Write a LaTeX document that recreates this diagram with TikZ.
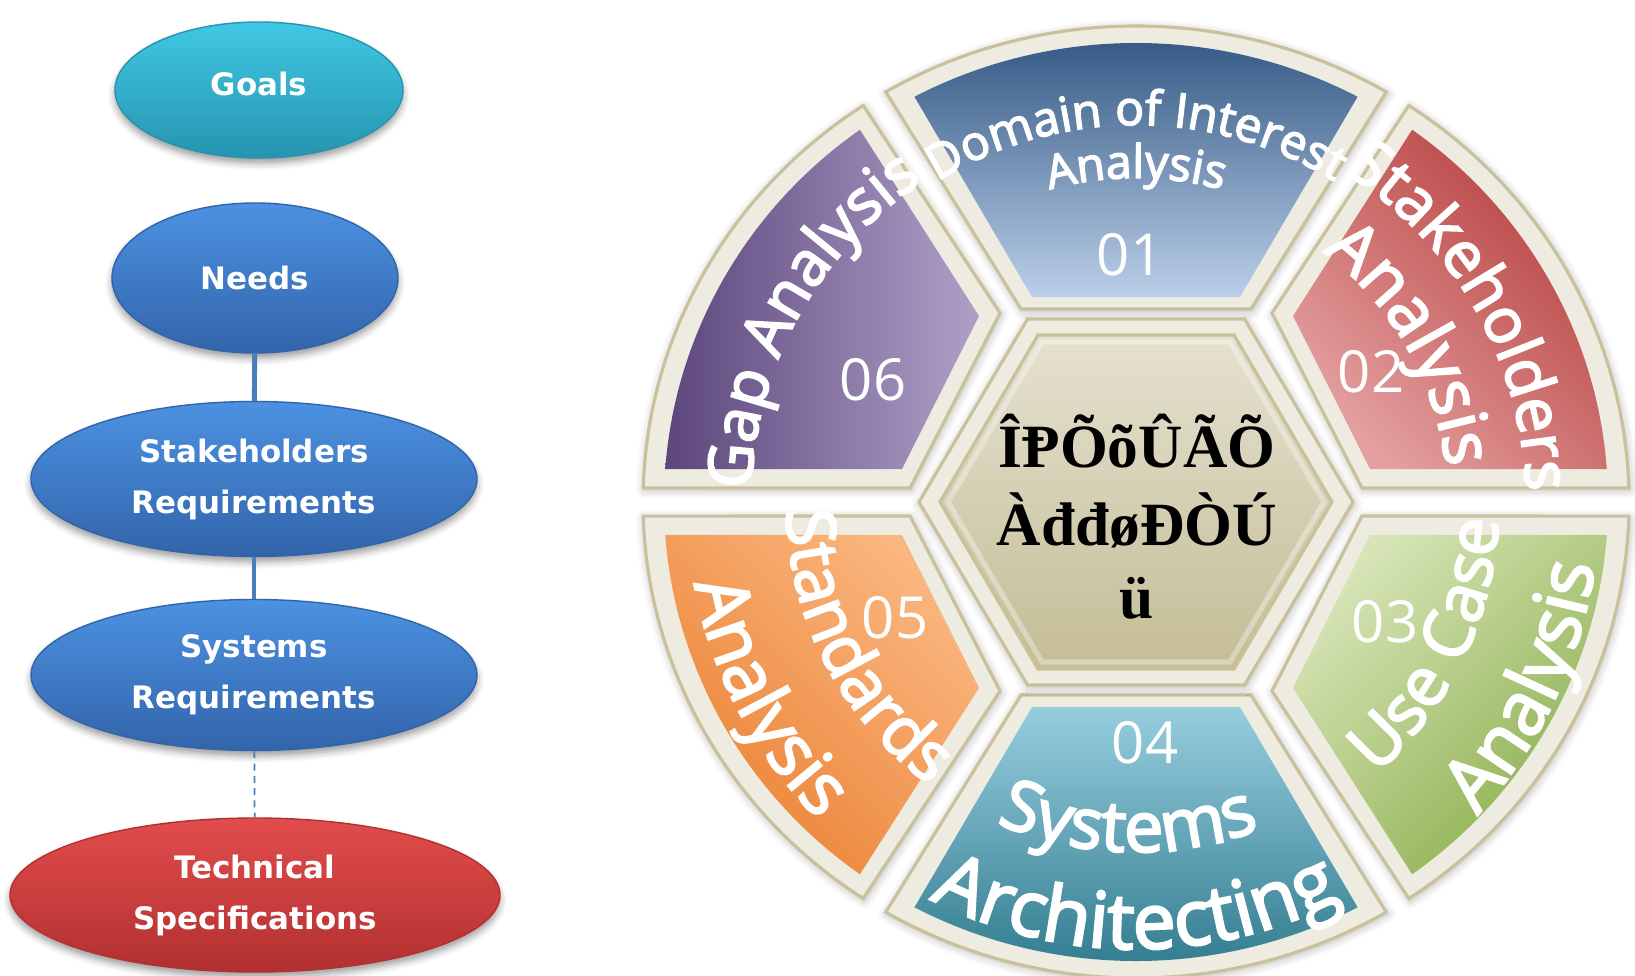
\documentclass[tikz,border=0pt]{standalone}
\usepackage{fontspec}
\setmainfont{Open Sans}
\newfontfamily\arcfont{Open Sans}[FakeBold=3]
\newfontfamily\boxfont{DejaVu Sans}
\newfontfamily\hexfont{Liberation Serif}
\usetikzlibrary{shapes.geometric, decorations.text, shadows.blur}
\definecolor{goaltop}{RGB}{64, 200, 228}
\definecolor{goalbot}{RGB}{38, 148, 176}
\definecolor{reqtop}{RGB}{76, 146, 226}
\definecolor{reqbot}{RGB}{50, 100, 170}
\definecolor{spectop}{RGB}{226, 76, 76}
\definecolor{specbot}{RGB}{178, 48, 48}
\definecolor{linkblue}{RGB}{74, 126, 187}
\definecolor{frmfill}{RGB}{238, 236, 225}
\definecolor{frmline}{RGB}{200, 193, 155}
\definecolor{hextop}{RGB}{229, 225, 208}
\definecolor{hexbot}{RGB}{196, 189, 150}
\definecolor{domtop}{RGB}{46, 83, 128}
\definecolor{dommid}{RGB}{80, 125, 178}
\definecolor{dombot}{RGB}{187, 207, 232}
\definecolor{stkdark}{RGB}{182, 64, 62}
\definecolor{stkmid}{RGB}{196, 88, 86}
\definecolor{stklight}{RGB}{228, 160, 160}
\definecolor{usedark}{RGB}{140, 175, 78}
\definecolor{uselight}{RGB}{214, 228, 182}
\definecolor{archtop}{RGB}{150, 206, 222}
\definecolor{archmid}{RGB}{75, 170, 198}
\definecolor{archbot}{RGB}{46, 120, 140}
\definecolor{stddark}{RGB}{235, 130, 52}
\definecolor{stdlight}{RGB}{250, 182, 127}
\definecolor{gapdark}{RGB}{92, 70, 124}
\definecolor{gaplight}{RGB}{175, 160, 200}
\newcommand{\segfont}[1]{\arcfont\fontsize{#1}{#1}\selectfont\color{white}}
\tikzset{
  stage/.style={ellipse, inner sep=0pt, align=center, text=white, line width=0.4pt,
    font=\boxfont\bfseries\fontsize{8.8}{14.5}\selectfont,
    blur shadow={shadow xshift=0pt, shadow yshift=-1.5pt, shadow blur radius=2pt}},
  conn/.style={draw=linkblue, line width=1.4pt},
  frame/.style={fill=frmfill, draw=frmline, line width=0.9pt,
    blur shadow={shadow xshift=0.3pt, shadow yshift=-0.6pt, shadow blur radius=2.5pt, shadow opacity=30}},
  num/.style={text=white, font=\fontsize{16.5}{18}\selectfont},
  hexline/.style={anchor=base, font=\hexfont\bfseries\fontsize{17.5}{20}\selectfont},
  arclabel/.style={decorate, decoration={text along path, text align=center, text={#1}}},
}
\begin{document}
\begin{tikzpicture}
  \useasboundingbox (0, 0) rectangle (16.35, 9.75);
  % requirement levels
  \node[stage, top color=goaltop, bottom color=goalbot, draw=goalbot, minimum width=2.88cm, minimum height=1.36cm, text depth=0.13cm] (goals) at (2.59, 8.85) {Goals};
  \node[stage, top color=reqtop, bottom color=reqbot, draw=reqbot, minimum width=2.86cm, minimum height=1.5cm] (needs) at (2.55, 6.97) {Needs};
  \node[stage, top color=reqtop, bottom color=reqbot, draw=reqbot, minimum width=4.46cm, minimum height=1.55cm] (stake) at (2.54, 4.96) {Stakeholders\\Requirements};
  \node[stage, top color=reqtop, bottom color=reqbot, draw=reqbot, minimum width=4.46cm, minimum height=1.51cm] (sysreq) at (2.54, 3.0) {Systems\\Requirements};
  \node[stage, top color=spectop, bottom color=specbot, draw=specbot, minimum width=4.9cm, minimum height=1.54cm] (techspec) at (2.55, 0.8) {Technical\\Specifications};
  \draw[conn] (needs) -- (stake);
  \draw[conn] (stake) -- (sysreq);
  \draw[draw=linkblue, line width=0.5pt, dash pattern=on 2pt off 1.5pt] (sysreq) -- (techspec);
  % analysis wheel
  \begin{scope}[shift={(11.36, 4.73)}]
    \draw[frame] (-1.15, 1.93) -- (120.5:4.93 and 4.76) arc[start angle=120.5, end angle=59.5, x radius=4.93, y radius=4.76] -- (1.15, 1.93) -- cycle;
    \draw[frame] (2.26, 0.14) -- (1.7:4.93 and 4.76) arc[start angle=1.7, end angle=56.4, x radius=4.93, y radius=4.76] -- (1.36, 1.89) -- cycle;
    \draw[frame] (2.26, -0.14) -- (-1.7:4.93 and 4.76) arc[start angle=-1.7, end angle=-56.4, x radius=4.93, y radius=4.76] -- (1.36, -1.89) -- cycle;
    \draw[frame] (-1.15, -1.93) -- (239.5:4.93 and 4.76) arc[start angle=239.5, end angle=300.5, x radius=4.93, y radius=4.76] -- (1.15, -1.93) -- cycle;
    \draw[frame] (-2.26, -0.14) -- (181.7:4.93 and 4.76) arc[start angle=181.7, end angle=236.4, x radius=4.93, y radius=4.76] -- (-1.36, -1.89) -- cycle;
    \draw[frame] (-2.26, 0.14) -- (178.3:4.93 and 4.76) arc[start angle=178.3, end angle=123.6, x radius=4.93, y radius=4.76] -- (-1.36, 1.89) -- cycle;
    \shade[top color=domtop, middle color=dommid, bottom color=dombot] (-1.04, 2.05) -- (118:4.72 and 4.59) arc[start angle=118, end angle=62, x radius=4.72, y radius=4.59] -- (1.04, 2.05) -- cycle;
    \shade[top color=stklight, middle color=stkmid, bottom color=stkdark, shading angle=135] (2.34, 0.33) -- (4.1:4.72 and 4.59) arc[start angle=4.1, end angle=54.2, x radius=4.72, y radius=4.59] -- (1.57, 1.86) -- cycle;
    \shade[top color=uselight, bottom color=usedark, shading angle=45] (2.34, -0.33) -- (-4.1:4.72 and 4.59) arc[start angle=-4.1, end angle=-54.2, x radius=4.72, y radius=4.59] -- (1.57, -1.86) -- cycle;
    \shade[top color=archtop, middle color=archmid, bottom color=archbot] (-1.04, -2.05) -- (242:4.72 and 4.59) arc[start angle=242, end angle=298, x radius=4.72, y radius=4.59] -- (1.04, -2.05) -- cycle;
    \shade[top color=stdlight, bottom color=stddark, shading angle=-45] (-2.34, -0.33) -- (184.1:4.72 and 4.59) arc[start angle=184.1, end angle=234.2, x radius=4.72, y radius=4.59] -- (-1.57, -1.86) -- cycle;
    \shade[left color=gapdark, right color=gaplight] (-2.34, 0.33) -- (175.9:4.72 and 4.59) arc[start angle=175.9, end angle=125.8, x radius=4.72, y radius=4.59] -- (-1.57, 1.86) -- cycle;
    % centre hexagon
    \draw[frame] (2.17, 0) -- (1.085, 1.83) -- (-1.085, 1.83) -- (-2.17, 0) -- (-1.085, -1.83) -- (1.085, -1.83) -- cycle;
    \draw[draw=frmline, line width=0.9pt, top color=hextop, bottom color=hexbot] (1.96, 0) -- (0.98, 1.67) -- (-0.98, 1.67) -- (-1.96, 0) -- (-0.98, -1.67) -- (0.98, -1.67) -- cycle;
    \draw[white, opacity=0.35, line width=1.5pt] (1.88, 0) -- (0.94, 1.6) -- (-0.94, 1.6) -- (-1.88, 0) -- (-0.94, -1.6) -- (0.94, -1.6) -- cycle;
    \node[hexline] (hx1) at (0.01, 0.35) {ÎⱣÕõÛÃÕ};
    \node[hexline] (hx2) at (0.01, -0.43) {ÀđđøĐÒÚ};
    \node[hexline] (hx3) at (0.01, -1.16) {ü};
    % numbers
    \node[num] (n01) at (-0.06, 2.47) {01};
    \node[num] (n02) at (2.35, 1.3) {02};
    \node[num] (n03) at (2.49, -1.2) {03};
    \node[num] (n04) at (0.09, -2.41) {04};
    \node[num] (n05) at (-2.41, -1.16) {05};
    \node[num] (n06) at (-2.63, 1.22) {06};
    % curved labels
    \path[arclabel={|\segfont{13.6}|Domain of Interest}] (140:3.77) arc[start angle=140, end angle=40, radius=3.77];
    \path[arclabel={|\segfont{13.2}|Analysis}] (140:3.24) arc[start angle=140, end angle=40, radius=3.24];
    \path[arclabel={|\segfont{17.9}|Stakeholders}] (79.6:3.9) arc[start angle=79.6, end angle=-20.4, radius=3.9];
    \path[arclabel={|\segfont{19.3}|Analysis}] (79.8:3.12) arc[start angle=79.8, end angle=-20.2, radius=3.12];
    \path[arclabel={|\segfont{19.4}|Use Case}] (-75.7:3.63) arc[start angle=-75.7, end angle=24.3, radius=3.63];
    \path[arclabel={|\segfont{21.2}|Analysis}] (-75.2:4.63) arc[start angle=-75.2, end angle=24.8, radius=4.63];
    \path[arclabel={|\segfont{20}|Systems}] (-141.4:3.5) arc[start angle=-141.4, end angle=-41.4, radius=3.5];
    \path[arclabel={|\segfont{22}|Architecting}] (-140:4.47) arc[start angle=-140, end angle=-40, radius=4.47];
    \path[arclabel={|\segfont{19.3}|Standards}] (157.7:3.5) arc[start angle=157.7, end angle=257.7, radius=3.5];
    \path[arclabel={|\segfont{20.5}|Analysis}] (157.8:4.49) arc[start angle=157.8, end angle=257.8, radius=4.49];
    \path[arclabel={|\segfont{17.6}|Gap Analysis}] (200.9:3.85) arc[start angle=200.9, end angle=100.9, radius=3.85];
  \end{scope}
\end{tikzpicture}
\end{document}
